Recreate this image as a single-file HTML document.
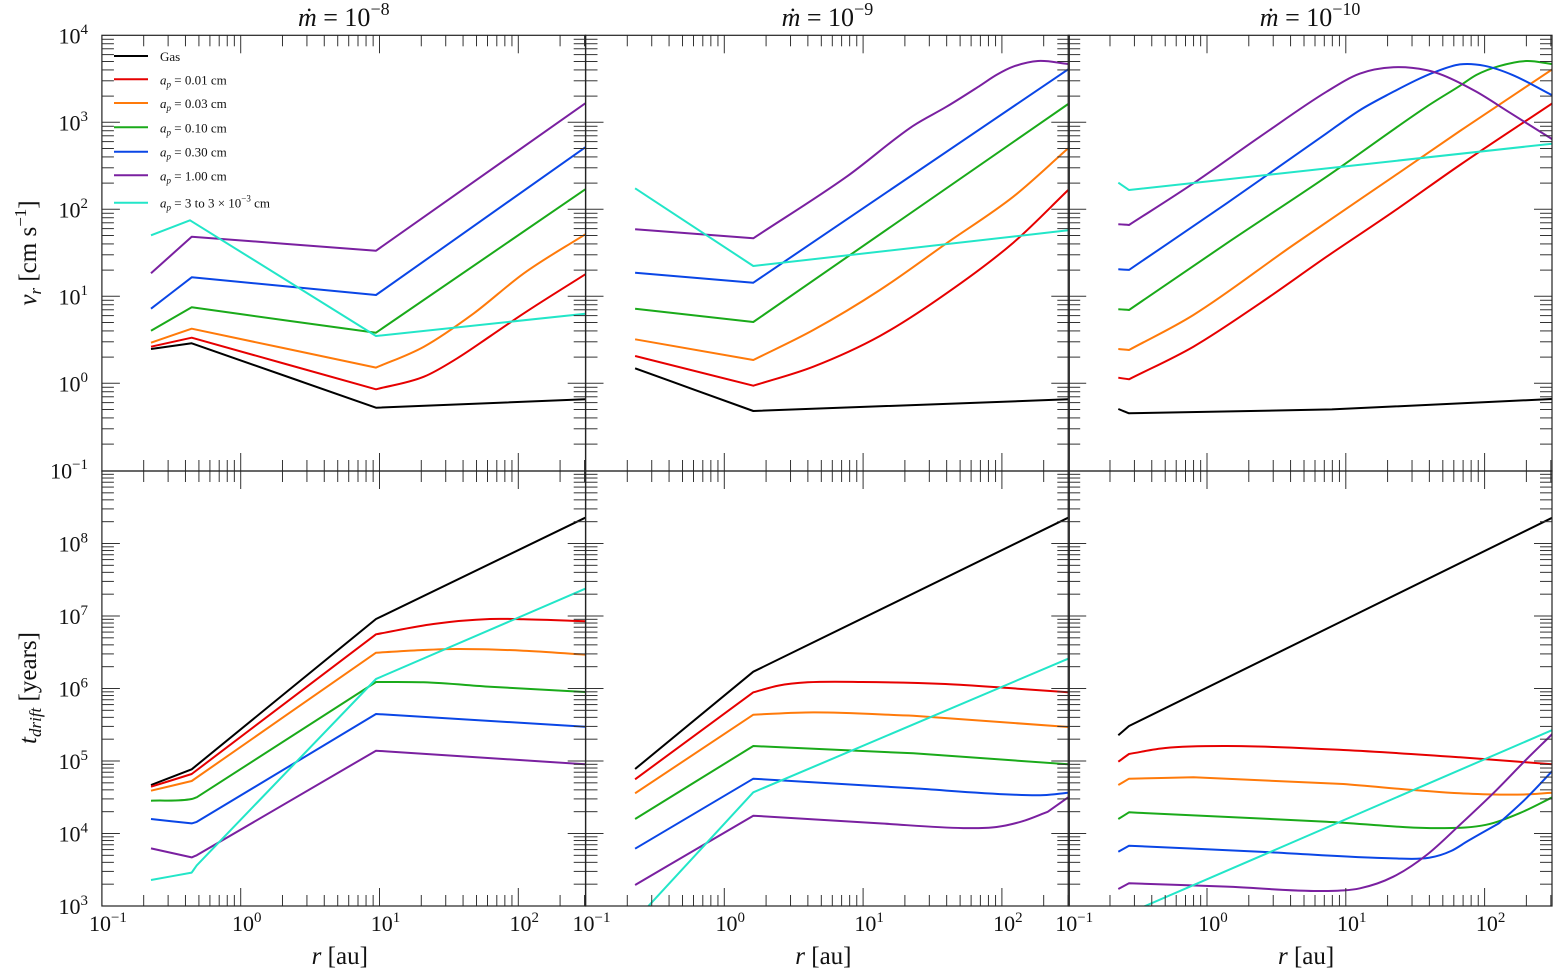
<!DOCTYPE html>
<html><head><meta charset="utf-8">
<style>
html,body{margin:0;padding:0;background:#fff;}
svg{display:block;font-family:"Liberation Serif",serif;}
</style></head>
<body>
<svg id="fig" width="1558" height="977" viewBox="0 0 1558 977" xmlns="http://www.w3.org/2000/svg"></svg>
<script>
// ---- data (log10 r [au], log10 value) ----
const colNames = ["gas","a001","a003","a010","a030","a100","avar"];
const colors = ["#000000","#e60000","#ff7a0a","#1aaa1a","#0a46e6","#7a20a0","#22e6c8"];
const legendLabels = ["Gas","0.01 cm","0.03 cm","0.10 cm","0.30 cm","1.00 cm","3 to 3 × 10"];
const titleExps = ["−8","−9","−10"];
const xTickExps = ["−1","0","1","2"];
const topTickExps = ["−1","0","1","2","3","4"];
const botTickExps = ["3","4","5","6","7","8"];

// Top row: v_r [cm/s]
const t1_gas_r=[-0.646,-0.353,0.975,2.483], t1_gas_v=[0.394,0.460,-0.280,-0.184];
const t1_a001_r=[-0.646,-0.353,0.975,1.32,1.56,1.80,2.04,2.483], t1_a001_v=[0.421,0.524,-0.069,0.076,0.287,0.544,0.805,1.253];
const t1_a003_r=[-0.646,-0.353,0.975,1.32,1.68,2.04,2.483], t1_a003_v=[0.467,0.628,0.180,0.421,0.805,1.264,1.713];
const t1_a010_r=[-0.646,-0.353,0.356,0.975,2.483], t1_a010_v=[0.605,0.874,0.716,0.582,2.230];
const t1_a030_r=[-0.646,-0.353,0.975,2.483], t1_a030_v=[0.858,1.218,1.015,2.713];
const t1_a100_r=[-0.646,-0.353,0.975,2.483], t1_a100_v=[1.264,1.685,1.524,3.218];
const t1_avar_r=[-0.646,-0.365,0.975,2.483], t1_avar_v=[1.701,1.874,0.544,0.800];

const t2_gas_r=[-0.643,0.209,2.478], t2_gas_v=[0.172,-0.318,-0.184];
const t2_a001_r=[-0.643,0.209,0.641,1.121,1.601,2.082,2.478], t2_a001_v=[0.314,-0.028,0.191,0.544,1.034,1.616,2.222];
const t2_a003_r=[-0.643,0.209,0.641,1.121,1.601,2.082,2.478], t2_a003_v=[0.506,0.268,0.613,1.072,1.609,2.145,2.701];
const t2_a010_r=[-0.643,0.209,2.478], t2_a010_v=[0.858,0.705,3.210];
const t2_a030_r=[-0.643,0.209,2.478], t2_a030_v=[1.271,1.156,3.609];
const t2_a100_r=[-0.643,0.209,0.881,1.361,1.601,1.841,1.961,2.082,2.260,2.478], t2_a100_v=[1.770,1.667,2.375,2.960,3.179,3.420,3.545,3.640,3.705,3.670];
const t2_avar_r=[-0.643,0.209,2.478], t2_avar_v=[2.241,1.348,1.759];

const t3_gas_r=[-0.639,-0.562,0.9,2.488], t3_gas_v=[-0.295,-0.345,-0.300,-0.180];
const t3_a001_r=[-0.639,-0.562,-0.098,0.382,0.862,1.342,1.822,2.488], t3_a001_v=[0.064,0.046,0.421,0.920,1.455,1.972,2.509,3.218];
const t3_a003_r=[-0.639,-0.562,-0.098,0.622,1.342,1.822,2.488], t3_a003_v=[0.394,0.383,0.785,1.590,2.375,2.900,3.609];
const t3_a010_r=[-0.639,-0.562,0.142,0.862,1.582,1.822,1.942,2.102,2.302,2.488], t3_a010_v=[0.851,0.843,1.609,2.375,3.179,3.420,3.545,3.645,3.705,3.670];
const t3_a030_r=[-0.639,-0.562,0.142,0.862,1.102,1.342,1.502,1.630,1.822,2.000,2.200,2.488], t3_a030_v=[1.310,1.303,2.069,2.874,3.140,3.350,3.480,3.570,3.665,3.650,3.545,3.310];
const t3_a100_r=[-0.639,-0.562,-0.098,0.382,0.862,1.102,1.342,1.582,1.702,1.942,2.182,2.488], t3_a100_v=[1.828,1.820,2.299,2.834,3.352,3.560,3.632,3.600,3.540,3.350,3.110,2.805];
const t3_avar_r=[-0.639,-0.562,2.488], t3_avar_v=[2.306,2.222,2.754];

// Bottom row: t_drift [years]
const b1_gas_r=[-0.646,-0.353,0.975,2.483], b1_gas_v=[4.669,4.885,6.959,8.356];
const b1_a001_r=[-0.646,-0.353,0.975,1.388,1.796,2.036,2.483], b1_a001_v=[4.646,4.820,6.747,6.890,6.959,6.955,6.927];
const b1_a003_r=[-0.646,-0.353,0.975,1.316,1.556,2.036,2.483], b1_a003_v=[4.590,4.724,6.494,6.531,6.545,6.522,6.467];
const b1_a010_r=[-0.646,-0.353,-0.317,0.975,1.316,1.796,2.483], b1_a010_v=[4.453,4.476,4.500,6.090,6.085,6.025,5.952];
const b1_a030_r=[-0.646,-0.353,-0.317,0.975,2.483], b1_a030_v=[4.200,4.140,4.160,5.648,5.473];
const b1_a100_r=[-0.646,-0.353,-0.317,0.975,2.483], b1_a100_v=[3.795,3.671,3.700,5.142,4.954];
const b1_avar_r=[-0.646,-0.353,-0.317,0.975,2.483], b1_avar_v=[3.359,3.460,3.560,6.131,7.377];

const b2_gas_r=[-0.643,0.209,2.478], b2_gas_v=[4.890,6.232,8.356];
const b2_a001_r=[-0.643,0.209,0.390,0.601,0.992,1.593,2.074,2.478], b2_a001_v=[4.747,5.947,6.040,6.085,6.090,6.062,6.003,5.947];
const b2_a003_r=[-0.643,0.209,0.641,1.362,2.478], b2_a003_v=[4.554,5.639,5.671,5.625,5.469];
const b2_a010_r=[-0.643,0.209,1.362,2.478], b2_a010_v=[4.200,5.207,5.106,4.954];
const b2_a030_r=[-0.643,0.209,1.362,2.074,2.300,2.478], b2_a030_v=[3.791,4.756,4.623,4.536,4.530,4.563];
const b2_a100_r=[-0.643,0.209,1.122,1.722,1.962,2.150,2.330,2.478], b2_a100_v=[3.290,4.246,4.140,4.075,4.090,4.170,4.300,4.499];
const b2_avar_r=[-0.643,0.209,2.478], b2_avar_v=[2.800,4.568,6.411];

const b3_gas_r=[-0.639,-0.562,2.488], b3_gas_v=[5.354,5.483,8.356];
const b3_a001_r=[-0.639,-0.562,-0.3,0.142,0.982,1.822,2.488], b3_a001_v=[4.991,5.097,5.180,5.207,5.152,5.051,4.954];
const b3_a003_r=[-0.639,-0.562,-0.098,0.982,1.822,2.110,2.300,2.488], b3_a003_v=[4.669,4.756,4.775,4.683,4.554,4.537,4.540,4.563];
const b3_a010_r=[-0.639,-0.562,0.862,1.702,2.010,2.250,2.488], b3_a010_v=[4.200,4.292,4.163,4.075,4.120,4.278,4.499];
const b3_a030_r=[-0.639,-0.562,0.382,1.342,1.600,1.760,1.882,2.102,2.300,2.488], b3_a030_v=[3.749,3.832,3.749,3.657,3.665,3.760,3.900,4.140,4.485,4.862];
const b3_a100_r=[-0.639,-0.562,0.142,0.862,1.102,1.342,1.582,1.822,2.062,2.302,2.488], b3_a100_v=[3.234,3.313,3.267,3.207,3.244,3.404,3.703,4.120,4.554,5.023,5.372];
const b3_avar_r=[-0.639,2.488], b3_avar_v=[2.840,5.428];

// ---- layout ----
const panelLeft=[101.9,585.5,1068.2];
const decX=138.8, panelW=483.8;
const topY0=35.3, topDec=87, midY=471, botDec=72.5, botY1=906;

const SVGNS="http://www.w3.org/2000/svg";
const svg=document.getElementById('fig');
function mk(tag,attrs,parent){const e=document.createElementNS(SVGNS,tag);for(const k in attrs)e.setAttribute(k,attrs[k]);(parent||svg).appendChild(e);return e;}
function xPos(p,lr){return panelLeft[p]+(lr+1)*decX;}
function yTop(lv){return topY0+(4-lv)*topDec;}
function yBot(lv){return midY+(9-lv)*botDec;}

function smoothPath(rs,vs,fx,fy){
  const n=rs.length;
  const sec=[];for(let i=0;i<n-1;i++)sec.push((vs[i+1]-vs[i])/(rs[i+1]-rs[i]));
  const mL=[],mR=[];
  for(let i=0;i<n;i++){
    if(i===0){mL[i]=mR[i]=sec[0];continue;}
    if(i===n-1){mL[i]=mR[i]=sec[n-2];continue;}
    const longSeg=(rs[i]-rs[i-1]>1.0)||(rs[i+1]-rs[i]>1.0);
    if(Math.abs(sec[i]-sec[i-1])>0.6||longSeg){mL[i]=sec[i-1];mR[i]=sec[i];}
    else{const m=(sec[i]+sec[i-1])/2;mL[i]=mR[i]=m;}
  }
  let d='M'+fx(rs[0]).toFixed(1)+','+fy(vs[0]).toFixed(1);
  for(let i=0;i<n-1;i++){
    const h=rs[i+1]-rs[i];
    const c1r=rs[i]+h/3,c1v=vs[i]+mR[i]*h/3;
    const c2r=rs[i+1]-h/3,c2v=vs[i+1]-mL[i+1]*h/3;
    d+=' C'+fx(c1r).toFixed(1)+','+fy(c1v).toFixed(1)+' '+fx(c2r).toFixed(1)+','+fy(c2v).toFixed(1)+' '+fx(rs[i+1]).toFixed(1)+','+fy(vs[i+1]).toFixed(1);
  }
  return d;
}

const defs=mk('defs',{});
for(let p=0;p<3;p++){
  const c1=mk('clipPath',{id:'ct'+p},defs); mk('rect',{x:panelLeft[p],y:topY0,width:panelW,height:midY-topY0},c1);
  const c2=mk('clipPath',{id:'cb'+p},defs); mk('rect',{x:panelLeft[p],y:midY,width:panelW,height:botY1-midY},c2);
}

const D={};
[["t1",t1_gas_r,t1_gas_v,t1_a001_r,t1_a001_v,t1_a003_r,t1_a003_v,t1_a010_r,t1_a010_v,t1_a030_r,t1_a030_v,t1_a100_r,t1_a100_v,t1_avar_r,t1_avar_v],
 ["t2",t2_gas_r,t2_gas_v,t2_a001_r,t2_a001_v,t2_a003_r,t2_a003_v,t2_a010_r,t2_a010_v,t2_a030_r,t2_a030_v,t2_a100_r,t2_a100_v,t2_avar_r,t2_avar_v],
 ["t3",t3_gas_r,t3_gas_v,t3_a001_r,t3_a001_v,t3_a003_r,t3_a003_v,t3_a010_r,t3_a010_v,t3_a030_r,t3_a030_v,t3_a100_r,t3_a100_v,t3_avar_r,t3_avar_v],
 ["b1",b1_gas_r,b1_gas_v,b1_a001_r,b1_a001_v,b1_a003_r,b1_a003_v,b1_a010_r,b1_a010_v,b1_a030_r,b1_a030_v,b1_a100_r,b1_a100_v,b1_avar_r,b1_avar_v],
 ["b2",b2_gas_r,b2_gas_v,b2_a001_r,b2_a001_v,b2_a003_r,b2_a003_v,b2_a010_r,b2_a010_v,b2_a030_r,b2_a030_v,b2_a100_r,b2_a100_v,b2_avar_r,b2_avar_v],
 ["b3",b3_gas_r,b3_gas_v,b3_a001_r,b3_a001_v,b3_a003_r,b3_a003_v,b3_a010_r,b3_a010_v,b3_a030_r,b3_a030_v,b3_a100_r,b3_a100_v,b3_avar_r,b3_avar_v]
].forEach(a=>{D[a[0]]=[];for(let i=0;i<7;i++)D[a[0]].push([a[1+2*i],a[2+2*i]]);});

['t','b'].forEach(row=>{
  for(let p=0;p<3;p++){
    const g=mk('g',{'clip-path':'url(#c'+row+p+')'});
    
    
    const sets=D[row+(p+1)];
    for(let s=0;s<7;s++){
      const [rs,vs]=sets[s];
      const d=smoothPath(rs,vs,r=>xPos(p,r),v=>row==='t'?yTop(v):yBot(v));
      const pl=mk('path',{d:d,fill:'none',stroke:colors[s],'stroke-width':2,'stroke-linejoin':'round'},g);
      
      
    }
  }
});

const tk=mk('g',{stroke:'#333','stroke-width':1,fill:'none'});


function line(x1,y1,x2,y2){mk('line',{x1,y1,x2,y2},tk);}
for(let p=0;p<3;p++){
  const L=panelLeft[p], R=L+panelW;
  for(let d=-1;d<=2;d++){
    for(let k=1;k<=9;k++){
      const lr=d+Math.log10(k); if(lr>2.483) continue;
      const x=xPos(p,lr), len=(k===1)?18:11;
      if(x<=L+0.5||x>=R-0.5) continue;
      line(x,topY0,x,topY0+len); line(x,midY,x,midY-len);
      line(x,midY,x,midY+len); line(x,botY1,x,botY1-len);
    }
  }
  for(let d=-1;d<4;d++){for(let k=1;k<=9;k++){const y=yTop(d+Math.log10(k));const len=(k===1)?18:12;if(k===1&&d===-1)continue;line(L,y,L+len,y);line(R,y,R-len,y);}}
  for(let d=3;d<9;d++){for(let k=1;k<=9;k++){const y=yBot(d+Math.log10(k));const len=(k===1)?18:12;if(k===1&&d===3)continue;line(L,y,L+len,y);line(R,y,R-len,y);}}
  const f1=mk('rect',{x:L,y:topY0,width:panelW,height:midY-topY0,fill:'none',stroke:'#222','stroke-width':1.2});
  
  
  const f2=mk('rect',{x:L,y:midY,width:panelW,height:botY1-midY,fill:'none',stroke:'#222','stroke-width':1.2});
  
  
}

function powText(x,y,exp,anchor,size,name){
  const t=mk('text',{x,y,'font-size':size,'text-anchor':anchor,fill:'#111'});
  
  
  const a=mk('tspan',{},t); a.textContent='10';
  const b=mk('tspan',{dy:-size*0.42,'font-size':size*0.68},t); b.textContent=exp;
  return t;
}
for(let p=0;p<3;p++){
  for(let i=0;i<4;i++){
    powText(xPos(p,i-1)+6,931,xTickExps[i],'middle',22,'x-tick-label-'+(p+1)+'-'+i);
  }
  const xl=mk('text',{x:panelLeft[p]+panelW/2-4,y:964,'font-size':25,'text-anchor':'middle',fill:'#111'});
  
  
  const i1=mk('tspan',{'font-style':'italic'},xl); i1.textContent='r';
  const i2=mk('tspan',{},xl); i2.textContent=' [au]';
  const tt=mk('text',{x:panelLeft[p]+panelW/2,y:26,'font-size':26,'text-anchor':'middle',fill:'#111'});
  
  
  const m=mk('tspan',{'font-style':'italic'},tt); m.textContent='ṁ';
  const e=mk('tspan',{},tt); e.textContent=' = 10';
  const s=mk('tspan',{dy:-11,'font-size':18},tt); s.textContent=titleExps[p];
}
for(let i=0;i<6;i++){
  powText(88,yTop(i-1)+8,topTickExps[i],'end',22,'y-tick-label-vr-'+i);
  if(i>0) powText(88,yBot(i+3)+8,botTickExps[i],'end',22,'y-tick-label-tdrift-'+i);
}
powText(88,yBot(3)+8,botTickExps[0],'end',22,'y-tick-label-tdrift-0');
const yt1=mk('text',{transform:'translate(36,253) rotate(-90)','font-size':25,'text-anchor':'middle',fill:'#111'});


yt1.innerHTML='<tspan font-style="italic">v</tspan><tspan font-style="italic" font-size="17" dy="5">r</tspan><tspan dy="-5"> [cm s</tspan><tspan font-size="17" dy="-10">−1</tspan><tspan dy="10">]</tspan>';
const yt2=mk('text',{transform:'translate(36,688) rotate(-90)','font-size':25,'text-anchor':'middle',fill:'#111'});


yt2.innerHTML='<tspan font-style="italic">t</tspan><tspan font-style="italic" font-size="17" dy="5">drift</tspan><tspan dy="-5"> [years]</tspan>';

const lg=mk('g',{});


const legY=[56,79.3,103,127.3,151.7,175.3,202.7];
for(let s=0;s<7;s++){
  const e=mk('g',{},lg);
  
  
  mk('line',{x1:114,y1:legY[s],x2:148,y2:legY[s],stroke:colors[s],'stroke-width':2},e);
  const t=mk('text',{x:160,y:legY[s]+5,'font-size':13,fill:'#111'},e);
  if(s===0){t.textContent=legendLabels[0];}
  else{
    t.innerHTML='<tspan font-style="italic">a</tspan><tspan font-style="italic" font-size="9" dy="3">p</tspan><tspan dy="-3"> = '+legendLabels[s]+'</tspan>'+(s===6?'<tspan font-size="9" dy="-6">−3</tspan><tspan dy="6"> cm</tspan>':'');
  }
}
</script>
</body></html>
